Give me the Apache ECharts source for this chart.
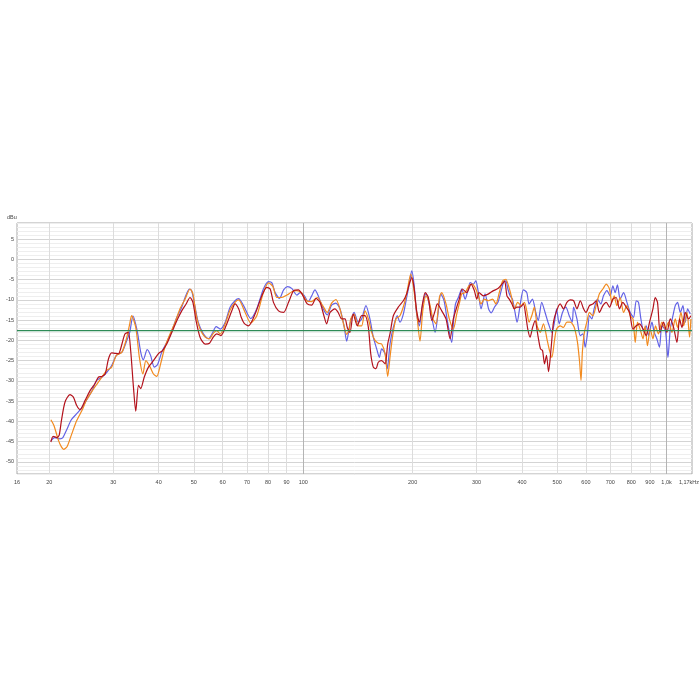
<!DOCTYPE html>
<html>
<head>
<meta charset="utf-8">
<script src="https://cdn.jsdelivr.net/npm/echarts@6/dist/echarts.min.js"></script>
<style>html,body{margin:0;padding:0;background:#fff}#c{width:700px;height:700px}</style>
</head>
<body>
<div id="c"></div>
<script>
// ---- axis definitions ----
const xMinHz = 16.3, xMaxHz = 1175;
const gridFreqs = [20,30,40,50,60,70,80,90,100,200,300,400,500,600,700,800,900,1000];
const labelFreqs = [16.3,20,30,40,50,60,70,80,90,100,200,300,400,500,600,700,800,900,1000,1175];
const labelTexts = ['16','20','30','40','50','60','70','80','90','100','200','300','400','500','600','700','800','900','1,0k','1,17kHz'];
const yMin = -53, yMax = 9;
const refLevel = -17.6;

// ---- series data: [frequency Hz, level dBu] ----
const blueData = [[20.2,-44.8],[20.7,-44.0],[21.4,-44.3],[21.8,-44.0],[22.3,-42.2],[23.0,-39.6],[23.8,-38.1],[24.6,-36.6],[25.3,-34.8],[26.2,-32.5],[27.0,-29.9],[27.9,-29.1],[28.8,-27.9],[29.7,-26.2],[30.6,-23.7],[31.7,-22.9],[32.7,-20.0],[33.3,-18.0],[34.0,-14.0],[34.9,-17.6],[35.7,-22.9],[36.3,-24.8],[37.2,-22.3],[38.0,-23.7],[38.9,-26.6],[39.7,-26.0],[40.8,-22.9],[42.1,-20.5],[43.5,-17.6],[44.9,-14.3],[46.3,-11.8],[47.3,-9.4],[48.6,-7.3],[49.3,-7.7],[50.4,-11.8],[51.4,-15.5],[53.1,-18.4],[54.8,-19.6],[56.1,-18.4],[57.6,-16.6],[59.1,-17.2],[61.0,-15.5],[62.9,-11.8],[64.9,-10.2],[66.4,-9.7],[68.5,-11.4],[71.7,-14.6],[74.5,-12.2],[77.7,-7.3],[80.3,-5.5],[82.0,-5.8],[83.7,-8.2],[86.1,-9.6],[88.3,-7.5],[90.5,-6.7],[93.1,-7.2],[96.0,-8.8],[98.1,-8.2],[100.4,-8.8],[103.2,-10.4],[105.5,-9.0],[107.7,-7.5],[110.0,-9.0],[113.5,-12.2],[116.4,-13.7],[119.7,-11.3],[123.0,-10.8],[126.2,-12.2],[129.5,-16.4],[131.7,-20.2],[134.5,-15.9],[138.0,-13.1],[141.8,-15.5],[144.8,-14.7],[148.8,-11.4],[152.6,-14.7],[155.9,-19.2],[159.3,-22.1],[162.0,-24.2],[164.4,-22.1],[168.0,-23.3],[170.4,-27.0],[173.3,-20.9],[177.0,-16.8],[181.5,-13.9],[184.6,-15.5],[188.6,-13.5],[192.6,-9.4],[195.8,-6.1],[198.9,-2.8],[201.8,-6.1],[205.2,-13.5],[208.7,-16.4],[213.3,-11.0],[217.8,-8.5],[221.0,-10.2],[225.9,-14.3],[230.6,-18.0],[235.5,-12.7],[239.0,-8.5],[244.1,-10.2],[249.2,-15.1],[256.3,-20.5],[259.5,-14.7],[262.5,-11.0],[267.3,-9.4],[273.1,-7.3],[279.0,-9.8],[283.8,-7.7],[288.2,-5.7],[294.0,-6.1],[298.5,-5.3],[303.4,-8.2],[308.6,-12.2],[316.5,-8.5],[323.7,-12.2],[329.0,-13.2],[336.0,-11.8],[343.5,-10.6],[350.7,-7.7],[355.9,-5.7],[361.1,-5.3],[365.8,-7.3],[371.1,-9.0],[376.6,-9.8],[382.8,-13.1],[387.8,-15.5],[395.2,-11.4],[403.6,-7.5],[412.4,-8.2],[418.3,-11.0],[427.3,-9.8],[436.6,-13.1],[443.5,-15.1],[453.3,-10.6],[463.1,-13.1],[473.3,-15.9],[483.4,-18.0],[491.5,-15.5],[498.1,-12.2],[506.4,-15.9],[517.2,-13.1],[528.3,-11.8],[539.7,-13.9],[549.9,-15.5],[554.8,-11.8],[566.7,-14.7],[578.8,-18.8],[588.6,-18.4],[597.0,-21.7],[605.7,-18.4],[613.5,-13.9],[622.7,-14.7],[631.8,-12.2],[645.3,-9.8],[659.4,-11.0],[670.4,-9.0],[685.4,-7.7],[699.8,-9.0],[711.6,-6.5],[721.9,-8.2],[732.5,-6.3],[745.3,-9.8],[761.6,-8.2],[778.0,-10.6],[794.4,-13.1],[811.2,-14.3],[825.3,-10.2],[837.1,-10.6],[849.9,-14.7],[864.5,-17.6],[879.1,-16.4],[892.0,-18.8],[911.5,-15.5],[924.8,-18.0],[940.3,-19.6],[956.0,-21.7],[971.1,-16.4],[992.6,-17.6],[1008.9,-24.2],[1023.7,-17.2],[1041.4,-13.9],[1056.7,-11.4],[1072.3,-10.6],[1090.8,-13.1],[1109.7,-11.4],[1125.9,-15.5],[1142.6,-12.2],[1162.2,-13.5]];

const orangeData = [[20.2,-39.6],[20.6,-41.0],[21.2,-44.7],[21.6,-46.3],[21.9,-46.9],[22.4,-46.2],[23.0,-43.4],[23.8,-39.8],[24.6,-37.3],[25.3,-34.8],[26.2,-32.6],[27.0,-30.9],[27.9,-29.1],[28.8,-27.4],[29.7,-26.6],[30.6,-23.7],[31.7,-22.9],[32.7,-19.2],[33.3,-15.9],[33.7,-13.9],[34.6,-16.8],[35.4,-24.2],[36.2,-28.3],[36.9,-25.0],[37.9,-26.6],[38.7,-28.3],[39.5,-28.9],[40.5,-25.8],[41.6,-21.7],[43.0,-18.4],[44.4,-15.5],[45.8,-12.2],[47.3,-9.8],[48.8,-7.3],[49.7,-8.5],[50.7,-13.5],[52.0,-17.2],[53.7,-19.2],[55.2,-19.6],[56.6,-18.2],[57.8,-17.6],[59.1,-18.4],[61.0,-15.9],[62.9,-12.5],[64.9,-10.6],[66.4,-10.0],[69.2,-13.1],[71.7,-15.7],[74.5,-13.9],[77.7,-8.2],[80.3,-5.8],[82.5,-6.7],[84.6,-9.4],[87.3,-9.4],[90.2,-8.8],[93.1,-8.0],[96.0,-7.7],[99.0,-8.3],[102.2,-10.2],[105.5,-10.4],[109.3,-9.4],[113.1,-11.4],[116.4,-13.1],[119.7,-10.8],[123.0,-9.9],[126.2,-12.2],[129.5,-16.4],[131.7,-18.5],[133.9,-17.2],[135.1,-14.7],[138.0,-13.5],[141.8,-16.4],[144.8,-16.4],[147.9,-12.7],[151.1,-14.7],[154.3,-18.0],[157.6,-20.0],[160.9,-20.7],[164.4,-20.9],[168.0,-23.3],[170.8,-28.9],[173.3,-24.2],[176.3,-18.8],[180.0,-14.7],[184.6,-13.9],[189.6,-11.0],[193.4,-7.7],[197.6,-3.6],[200.9,-6.5],[205.2,-13.1],[209.6,-20.2],[213.3,-12.7],[217.8,-9.0],[222.4,-10.6],[227.5,-14.7],[232.1,-15.9],[237.0,-9.4],[240.6,-8.2],[247.2,-11.0],[252.4,-14.7],[258.9,-17.2],[264.5,-13.5],[270.1,-10.2],[273.1,-8.5],[279.0,-8.2],[286.0,-6.5],[292.1,-6.1],[298.5,-7.3],[303.4,-9.0],[308.6,-11.0],[315.1,-9.8],[323.7,-10.2],[332.0,-9.8],[339.1,-11.0],[346.4,-8.2],[353.7,-5.3],[361.1,-4.9],[367.3,-6.5],[373.8,-9.0],[381.2,-12.2],[389.4,-10.6],[397.9,-11.4],[406.1,-10.6],[412.4,-12.7],[418.3,-15.5],[425.6,-13.9],[432.6,-11.8],[440.4,-16.4],[449.1,-18.0],[458.4,-15.9],[468.5,-19.6],[476.3,-22.5],[483.4,-24.2],[491.5,-20.0],[498.1,-17.2],[509.6,-16.4],[520.3,-16.8],[531.7,-15.5],[543.1,-15.5],[554.8,-16.4],[560.5,-17.6],[568.7,-20.5],[576.4,-25.4],[581.6,-29.9],[586.5,-22.9],[594.1,-18.0],[603.4,-15.5],[613.5,-13.1],[626.8,-13.9],[640.0,-11.4],[653.4,-8.5],[667.9,-7.3],[682.3,-6.1],[696.5,-7.3],[707.1,-10.6],[717.5,-9.0],[729.9,-11.4],[745.3,-9.4],[761.6,-13.1],[778.0,-11.4],[794.4,-13.9],[808.2,-14.7],[820.0,-20.5],[831.8,-15.5],[845.8,-17.2],[861.5,-19.6],[873.1,-16.4],[885.9,-21.3],[901.7,-17.2],[917.3,-19.6],[932.4,-16.4],[949.6,-18.4],[971.1,-15.5],[992.6,-17.2],[1012.8,-15.5],[1034.8,-18.0],[1056.7,-14.7],[1072.3,-16.8],[1095.7,-13.1],[1114.0,-16.4],[1138.1,-13.1],[1157.1,-19.2],[1167,-14.7]];

const redData = [[20.2,-45.1],[20.5,-43.7],[21.0,-44.0],[21.3,-43.4],[21.6,-39.8],[22.1,-35.2],[22.8,-33.4],[23.3,-34.0],[23.8,-36.1],[24.3,-37.1],[25.1,-34.8],[25.9,-32.4],[26.7,-30.7],[27.3,-29.1],[27.9,-28.9],[28.5,-28.3],[29.1,-24.6],[29.7,-23.1],[30.3,-23.2],[31.0,-23.3],[31.7,-20.9],[32.3,-18.4],[33.0,-18.0],[33.5,-22.5],[34.1,-31.6],[34.6,-37.5],[35.2,-31.1],[35.7,-31.9],[36.5,-29.1],[37.5,-26.6],[38.7,-25.0],[40.0,-23.2],[41.0,-22.5],[42.1,-20.9],[43.5,-18.0],[44.9,-15.1],[46.3,-12.7],[47.6,-11.0],[48.8,-9.4],[49.7,-10.6],[50.7,-15.1],[52.0,-19.2],[53.7,-20.9],[55.2,-20.7],[56.6,-19.1],[57.8,-18.4],[59.3,-18.8],[61.3,-16.4],[63.6,-12.7],[64.9,-11.0],[66.5,-12.3],[67.5,-14.3],[68.8,-15.8],[70.7,-16.4],[73.7,-13.5],[76.9,-9.0],[79.4,-6.9],[81.1,-7.3],[82.8,-10.6],[85.5,-12.7],[88.3,-13.1],[91.1,-10.6],[94.1,-7.7],[97.0,-7.5],[99.6,-8.8],[102.6,-11.0],[105.5,-11.3],[108.4,-9.6],[111.2,-10.6],[114.0,-13.9],[116.0,-15.9],[118.5,-13.1],[122.3,-12.2],[124.8,-13.1],[127.6,-14.7],[130.3,-14.7],[132.2,-16.8],[134.5,-18.0],[137.3,-13.5],[140.9,-16.4],[144.8,-13.9],[147.9,-13.9],[151.1,-16.8],[153.4,-23.3],[155.9,-26.6],[158.6,-27.0],[160.9,-25.4],[164.4,-25.0],[168.0,-25.8],[170.8,-20.9],[173.3,-18.4],[177.0,-13.9],[182.6,-11.8],[188.6,-10.2],[192.6,-8.5],[195.8,-6.1],[198.9,-4.5],[201.8,-6.9],[205.2,-12.7],[208.7,-15.5],[213.3,-10.6],[216.7,-8.2],[221.0,-9.4],[225.9,-15.1],[230.6,-12.7],[234.0,-11.0],[240.6,-12.7],[247.2,-14.7],[253.6,-19.6],[258.9,-14.7],[264.5,-11.8],[268.5,-10.0],[274.1,-7.3],[281.9,-8.2],[289.7,-6.1],[295.8,-7.7],[300.4,-9.8],[304.8,-8.2],[313.2,-9.0],[323.7,-8.5],[334.0,-7.7],[343.5,-7.2],[352.3,-6.1],[358.2,-5.3],[363.7,-9.0],[369.0,-9.8],[375.4,-11.0],[381.2,-12.2],[387.0,-11.8],[395.2,-11.8],[403.6,-11.0],[409.8,-13.9],[415.0,-17.2],[421.1,-19.2],[427.8,-16.8],[434.8,-15.1],[442.5,-18.8],[449.8,-22.1],[455.6,-22.5],[461.5,-25.8],[467.3,-23.7],[473.3,-27.7],[481.4,-21.7],[488.4,-15.5],[498.1,-12.7],[509.6,-11.0],[520.3,-12.2],[531.7,-10.6],[543.1,-10.0],[554.8,-10.2],[566.7,-12.2],[578.8,-10.2],[591.0,-12.2],[600.2,-13.1],[613.5,-11.4],[626.8,-11.0],[640.0,-10.2],[653.4,-13.1],[667.9,-11.4],[682.3,-10.6],[696.5,-11.8],[711.6,-9.8],[726.7,-9.4],[742.1,-12.2],[758.1,-10.6],[774.4,-11.8],[790.9,-13.1],[808.2,-17.2],[825.3,-16.4],[842.7,-15.9],[861.5,-17.2],[879.1,-18.8],[897.7,-15.5],[917.3,-12.2],[930.7,-9.4],[944.3,-10.6],[960.1,-18.0],[980.9,-15.5],[1002.5,-18.0],[1023.7,-14.7],[1045.4,-16.8],[1068.2,-20.5],[1086.0,-14.7],[1102.5,-16.8],[1125.9,-13.1],[1149.9,-14.7],[1167,-13.9]];

// ---- build chart ----
const lg = v => Math.log10(v);
const toXY = arr => arr.map(p => [lg(p[0]), p[1]]);
const gridLineColors = gridFreqs.map(f => (f === 100 || f === 1000) ? '#b4b4b4' : '#dcdcdc');

function xLabel(v) {
  let best = 0, bd = Infinity;
  labelFreqs.forEach((f, i) => { const d = Math.abs(lg(f) - v); if (d < bd) { bd = d; best = i; } });
  const t = labelTexts[best];
  return best === labelTexts.length - 1 ? '{last|' + t + '}' : t;
}

const lineSeries = (name, data, color) => ({
  name, type: 'line', data: toXY(data), showSymbol: false, symbol: 'none',
  smooth: 0.25, lineStyle: { color, width: 1.2 }, animation: false
});

const FONT = 'Liberation Sans';
const chart = echarts.init(document.getElementById('c'), null, { renderer: 'canvas' });
chart.setOption({
  backgroundColor: '#ffffff',
  animation: false,
  grid: { left: 17, right: 8, top: 223, bottom: 226, show: true, borderColor: '#a8a8a8', borderWidth: 1, backgroundColor: 'transparent', containLabel: false, outerBoundsMode: 'none' },
  graphic: [{ type: 'text', left: 7, top: 214, style: { text: 'dBu', fontSize: 5.5, fill: '#444', fontFamily: FONT } }],
  xAxis: {
    type: 'value', min: lg(xMinHz), max: lg(xMaxHz),
    axisLine: { show: false },
    axisTick: { show: false, customValues: gridFreqs.map(lg) },
    splitLine: { show: true, lineStyle: { color: gridLineColors, width: 1 } },
    axisLabel: { customValues: labelFreqs.map(lg), formatter: xLabel, fontSize: 5.5, color: '#444', margin: 5, fontFamily: FONT, showMinLabel: true, showMaxLabel: true,
      rich: { last: { fontSize: 5.5, color: '#444', fontFamily: FONT, padding: [0, 6, 0, 0] } } }
  },
  yAxis: {
    type: 'value', min: yMin, max: yMax, interval: 1,
    axisLine: { show: false }, axisTick: { show: false },
    splitLine: { show: true, lineStyle: { color: ['#eeeeee','#eeeeee','#eeeeee','#d4d4d4','#eeeeee'], width: 1 } },
    axisLabel: { formatter: v => (v % 5 === 0 ? String(v) : ''), fontSize: 5.5, color: '#444', margin: 3, fontFamily: FONT }
  },
  series: [
    lineSeries('blue', blueData, '#6262e6'),
    lineSeries('orange', orangeData, '#f28a1e'),
    lineSeries('red', redData, '#b3121c'),
    { name: 'ref', type: 'line', data: [[lg(xMinHz), refLevel], [lg(xMaxHz), refLevel]], showSymbol: false, symbol: 'none',
      lineStyle: { color: '#2e8b57', width: 1.3 }, z: 3, animation: false }
  ]
});
</script>
</body>
</html>
